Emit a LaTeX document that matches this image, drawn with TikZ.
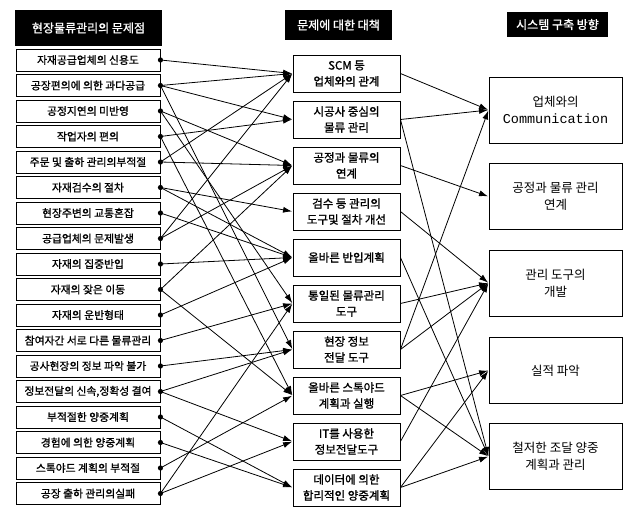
\documentclass[tikz,border=0pt]{standalone}
\usepackage{fontspec}
\setmainfont[AutoFakeBold=1.2]{Noto Sans CJK KR}
\newfontfamily\commfont{Liberation Mono}
\usetikzlibrary{arrows.meta,positioning}
\tikzset{headbox/.style={fill=black,text=white,inner sep=0pt,font=\bfseries\fontsize{12}{14}\selectfont}}
\tikzset{probbox/.style={draw,line width=0.9pt,minimum width=144pt,minimum height=22pt,inner sep=0pt,font=\bfseries\fontsize{10.8}{12}\selectfont}}
\tikzset{planbox/.style={draw,line width=0.9pt,minimum width=107pt,minimum height=37pt,inner sep=0pt,align=center,font=\bfseries\fontsize{11.5}{16}\selectfont}}
\tikzset{goalbox/.style={draw,line width=0.9pt,minimum width=133pt,minimum height=66pt,inner sep=0pt,align=center,font=\fontsize{12.5}{17}\selectfont}}
\tikzset{link/.style={->,>={Latex[length=9pt,width=6pt]},line width=0.8pt,shorten >=0.5pt}}

\begin{document}
\begin{tikzpicture}[x=1pt,y=-1pt]
  \useasboundingbox (0,0) rectangle (629,508);
  % Column heads
  \node[headbox,minimum width=147pt,minimum height=36pt] (h1) at (88.5,28) {현장물류관리의 문제점};
  \node[headbox,minimum width=107pt,minimum height=30pt] (h2) at (338.5,25) {문제에 대한 대책};
  \node[headbox,minimum width=101pt,minimum height=25pt] (h3) at (557.5,24.5) {시스템 구축 방향};

  % Problems
  \foreach \txt [count=\i] in {자재공급업체의 신용도, 공장편의에 의한 과다공급, 공정지연의 미반영,
      작업자의 편의, 주문 및 출하 관리의부적절, 자재검수의 절차, 현장주변의 교통혼잡,
      공급업체의 문제발생, 자재의 집중반입, 자재의 잦은 이동, 자재의 운반형태,
      참여자간 서로 다른 물류관리, 공사현장의 정보 파악 불가, {정보전달의 신속,정확성 결여},
      부적절한 양중계획, 경험에 의한 양중계획, 스톡야드 계획의 부적절, 공장 출하 관리의실패}
  {
    \node[probbox] (p\i) at (88,{60+25.5*(\i-1)}) {\txt};
    \fill (p\i.east) circle (2.6pt);
  }

  % Countermeasures
  \foreach \txt [count=\i] in {{SCM 등\\업체와의 관계}, {시공사 중심의\\물류 관리},
      {공정과 물류의\\연계}, {검수 등 관리의\\도구및 절차 개선}, {올바른 반입계획},
      {통일된 물류관리\\도구}, {현장 정보\\전달 도구}, {올바른 스톡야드\\계획과 실행},
      {IT를 사용한\\정보전달도구}, {데이터에 의한\\합리적인 양중계획}}
    \node[planbox] (m\i) at (346.5,{73.5+46*(\i-1)}) {\txt};

  % Directions
  \node[goalbox] (g1) at (555.5,110) {업체와의\\{\commfont\fontsize{13.5}{17}\selectfont Communication}};
  \node[goalbox] (g2) at (555.5,196.5) {공정과 물류 관리\\연계};
  \node[goalbox] (g3) at (555.5,283) {관리 도구의\\개발};
  \node[goalbox] (g4) at (555.5,370.5) {실적 파악};
  \node[goalbox] (g5) at (555.5,456.5) {철저한 조달 양중\\계획과 관리};

  % Problems -> countermeasures
  \foreach \a/\b in {1/1,2/1,2/2,2/7,3/3,3/6,4/2,4/8,5/1,5/3,6/4,6/5,7/5,8/1,8/3,9/5,
      10/3,10/8,11/5,12/6,13/7,14/7,14/9,15/10,16/10,17/8,18/6,18/9}
    \draw[link] (p\a.east) -- (m\b.west);

  % Countermeasures -> directions
  \foreach \a/\b in {1/1,2/1,2/5,3/2,4/3,5/5,6/3,7/1,7/3,8/4,8/5,9/3,10/4,10/5}
    \draw[link] (m\a.east) -- (g\b.west);
\end{tikzpicture}
\end{document}
